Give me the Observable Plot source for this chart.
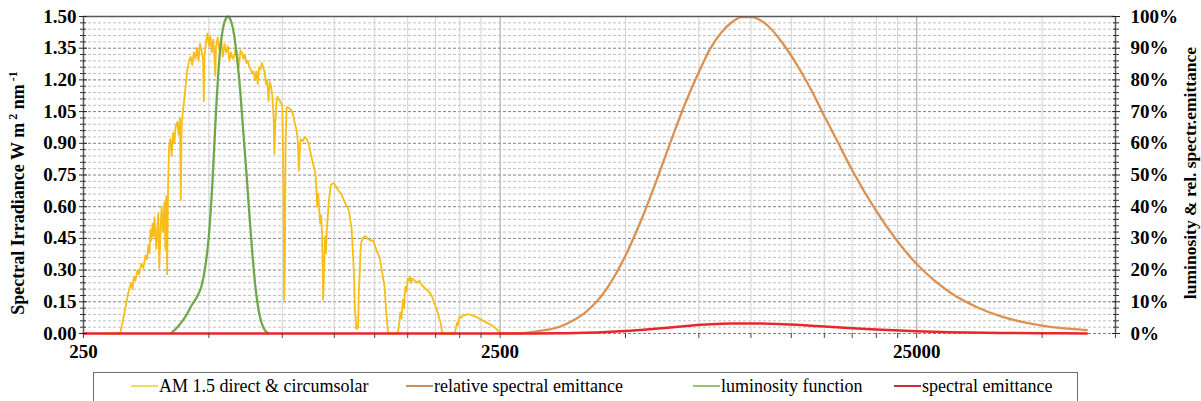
<!DOCTYPE html>
<html><head><meta charset="utf-8">
<script src="https://cdn.jsdelivr.net/npm/d3@7"></script>
<script src="https://cdn.jsdelivr.net/npm/@observablehq/plot@0.6"></script>
<style>
body{margin:0;background:#fff;font-family:"Liberation Serif","Times New Roman",serif;}
#wrap{position:relative;width:1201px;height:401px;overflow:hidden;background:#fff;}
#legend{position:absolute;left:93px;top:372px;width:985px;height:40px;border:1px solid #6e6e6e;box-sizing:border-box;background:#fff;}
.item{position:absolute;top:2px;font-family:"Liberation Serif","Times New Roman",serif;font-size:18px;line-height:22px;display:flex;align-items:center;color:#000;white-space:nowrap;}
.sw{display:inline-block;width:27px;height:2px;margin-right:1px;}
</style></head><body>
<div id="wrap"><div id="chart"></div><div id="legend"></div></div>
<script>
// ---------- data ----------
// AM 1.5 direct & circumsolar: [wavelength nm, W m-2 nm-1]
const amSpectrum = [[280,0],[295,0],[306,0],[310,0.05],[315,0.12],[320,0.19],[325,0.24],[328,0.21],[330,0.27],[333,0.25],[337,0.30],[340,0.28],[344,0.33],[348,0.31],[352,0.37],[355,0.35],[358,0.42],[360,0.38],[362,0.49],[364,0.44],[366,0.52],[368,0.46],[370,0.55],[372,0.47],[374,0.40],[376,0.50],[378,0.57],[380,0.31],[382,0.45],[385,0.60],[388,0.48],[391,0.62],[393,0.40],[395,0.65],[397,0.28],[399,0.70],[401,0.88],[404,0.92],[407,0.84],[410,0.95],[413,0.90],[416,0.98],[420,1.00],[423,0.94],[426,1.02],[428,0.63],[430,0.98],[433,1.05],[436,1.10],[440,1.18],[444,1.25],[448,1.29],[452,1.31],[456,1.27],[460,1.33],[464,1.30],[468,1.35],[472,1.29],[476,1.37],[480,1.34],[484,1.30],[486,1.10],[488,1.31],[492,1.38],[496,1.42],[500,1.36],[504,1.41],[508,1.33],[512,1.39],[516,1.30],[518,1.22],[520,1.36],[525,1.40],[530,1.34],[535,1.39],[540,1.31],[545,1.37],[550,1.33],[555,1.36],[560,1.29],[565,1.33],[570,1.30],[575,1.31],[580,1.35],[585,1.32],[590,1.26],[595,1.34],[600,1.33],[605,1.30],[610,1.32],[615,1.28],[620,1.29],[625,1.26],[630,1.25],[635,1.23],[640,1.24],[645,1.20],[650,1.24],[655,1.18],[660,1.26],[665,1.25],[670,1.28],[675,1.26],[680,1.24],[685,1.18],[690,1.20],[695,1.10],[700,1.19],[705,1.17],[710,1.12],[715,1.02],[718,0.85],[722,1.00],[726,1.09],[730,1.12],[735,1.11],[740,1.10],[745,1.09],[750,1.08],[755,0.70],[758,0.16],[761,0.35],[764,0.90],[768,1.07],[775,1.07],[785,1.06],[795,1.04],[805,0.99],[812,0.96],[818,0.90],[822,0.77],[826,0.86],[830,0.92],[840,0.91],[850,0.93],[860,0.92],[870,0.89],[880,0.84],[890,0.80],[900,0.76],[905,0.70],[910,0.60],[915,0.66],[920,0.58],[925,0.52],[930,0.56],[935,0.45],[940,0.16],[945,0.30],[950,0.46],[955,0.38],[960,0.50],[965,0.56],[970,0.63],[975,0.66],[980,0.70],[990,0.71],[1000,0.71],[1020,0.68],[1040,0.66],[1060,0.62],[1080,0.59],[1090,0.55],[1100,0.50],[1110,0.35],[1115,0.27],[1120,0.12],[1130,0.02],[1140,0.03],[1145,0.20],[1150,0.27],[1155,0.38],[1160,0.43],[1170,0.45],[1180,0.46],[1190,0.46],[1200,0.45],[1220,0.44],[1240,0.44],[1260,0.40],[1270,0.38],[1285,0.36],[1300,0.30],[1320,0.22],[1335,0.08],[1345,0.01],[1355,0],[1420,0],[1430,0.04],[1440,0.10],[1450,0.07],[1460,0.16],[1470,0.12],[1480,0.22],[1490,0.20],[1500,0.26],[1510,0.25],[1520,0.27],[1530,0.24],[1540,0.26],[1560,0.25],[1580,0.24],[1600,0.25],[1620,0.23],[1640,0.22],[1660,0.21],[1680,0.20],[1700,0.19],[1720,0.17],[1740,0.14],[1760,0.12],[1780,0.08],[1800,0.05],[1812,0.01],[1820,0],[1940,0],[1950,0.01],[1960,0.03],[1970,0.05],[1980,0.04],[1990,0.07],[2000,0.08],[2020,0.075],[2040,0.09],[2060,0.085],[2080,0.09],[2100,0.092],[2120,0.088],[2150,0.085],[2180,0.08],[2210,0.075],[2240,0.068],[2270,0.062],[2300,0.055],[2340,0.048],[2380,0.04],[2420,0.03],[2460,0.018],[2500,0.006],[2540,0]];
// relative spectral emittance: [wavelength nm, % of peak]
const relEmittance = [[2500,0],[2800,0.1],[3000,0.5],[3250,1.2],[3500,2.3],[3750,4.2],[4000,6.6],[4500,14],[5000,24.6],[5500,37],[6000,50],[6500,62.5],[7000,73.5],[7500,82.5],[8000,90],[8500,95],[9000,98.2],[9500,99.8],[10000,99.8],[11000,97],[12000,91],[13000,84],[14000,76.5],[15000,68.6],[16000,61.5],[17500,51.5],[20000,38.6],[22500,29],[25000,21.9],[27500,16.8],[30000,13],[35000,8.2],[40000,5.3],[45000,3.6],[50000,2.5],[55000,1.8],[60000,1.35],[64000,1.05]];
// luminosity function: [wavelength nm, %]
const luminosity = [[405,0],[420,2],[440,5.5],[455,9],[470,12],[480,15],[490,21],[500,31],[510,48],[520,70],[530,87],[540,96],[550,99.5],[555,100],[565,98.5],[575,94],[585,86],[595,76],[605,63],[615,51],[625,38],[635,26],[645,16],[655,9],[665,4.5],[675,2],[685,0.6],[695,0]];
// spectral emittance: [wavelength nm, W m-2 nm-1]
const spectralEmittance = [[250,0],[2500,0],[3000,0.0002],[3500,0.0011],[4000,0.0032],[4500,0.0067],[5000,0.0118],[6000,0.024],[7000,0.0353],[8000,0.0432],[9000,0.0471],[10000,0.0479],[12000,0.0437],[15000,0.0329],[17500,0.0247],[20000,0.0185],[25000,0.0105],[30000,0.0062],[40000,0.0025],[50000,0.0012],[64000,0.0005]];

// ticks
const xTickLabels = [250, 2500, 25000];
const xGridMinor = [500,750,1000,1250,1500,1750,2000,2250,5000,7500,10000,12500,15000,17500,20000,22500,50000];
const xGridMajor = [2500, 25000];
const xTicksAll = [250,500,750,1000,1250,1500,1750,2000,2250,2500,5000,7500,10000,12500,15000,17500,20000,22500,25000,50000,75000];
const yMajor = [0,0.15,0.30,0.45,0.60,0.75,0.90,1.05,1.20,1.35,1.50];
const yMinor = [0.03,0.06,0.09,0.12,0.18,0.21,0.24,0.27,0.33,0.36,0.39,0.42,0.48,0.51,0.54,0.57,0.63,0.66,0.69,0.72,0.78,0.81,0.84,0.87,0.93,0.96,0.99,1.02,1.08,1.11,1.14,1.17,1.23,1.26,1.29,1.32,1.38,1.41,1.44,1.47];
const rightPct = [0,10,20,30,40,50,60,70,80,90,100];

const legendItems = [
  {label:"AM 1.5 direct & circumsolar", color:"#F2DA5E", left:37},
  {label:"relative spectral emittance", color:"#C9905A", left:312},
  {label:"luminosity function", color:"#9CC27A", left:599},
  {label:"spectral emittance", color:"#C2303F", left:800}
];

// ---------- chart ----------
const pctToY = p => p * 1.5 / 100;
const fmtPct = v => `${Math.round(v / 0.015)}%`;
const blank = () => "";

const chart = Plot.plot({
  width: 1201, height: 368,
  marginLeft: 83, marginRight: 86, marginTop: 16, marginBottom: 35,
  x: {type: "log", domain: [250, 75000]},
  y: {domain: [0, 1.5]},
  style: {fontFamily: "'Liberation Serif', 'Times New Roman', serif", fontSize: "19px", fontWeight: "bold", color: "#000", background: "#fff", overflow: "visible"},
  marks: [
    Plot.ruleY(yMinor, {stroke: "#c0c0c0", strokeDasharray: "3,2", strokeWidth: 1}),
    Plot.ruleY(yMajor, {stroke: "#808080", strokeDasharray: "3,2", strokeWidth: 1}),
    Plot.ruleX(xGridMinor, {stroke: "#d2d2d2", strokeWidth: 1}),
    Plot.ruleX(xGridMajor, {stroke: "#a0a0a0", strokeWidth: 1}),
    Plot.line(amSpectrum, {x: d => d[0], y: d => d[1], stroke: "#F8BE17", strokeWidth: 1.8, curve: "linear"}),
    Plot.line(relEmittance, {x: d => d[0], y: d => pctToY(d[1]), stroke: "#DB9152", strokeWidth: 2.3, curve: "monotone-x"}),
    Plot.line(luminosity, {x: d => d[0], y: d => pctToY(d[1]), stroke: "#6FA84A", strokeWidth: 2.3, curve: "monotone-x"}),
    Plot.line(spectralEmittance, {x: d => d[0], y: d => d[1], stroke: "#E8262B", strokeWidth: 2.5, curve: "monotone-x"}),
    // frame
    Plot.ruleY([1.5], {stroke: "#5a5a5a", strokeWidth: 1.5}),
    Plot.ruleX([250], {stroke: "#5a5a5a", strokeWidth: 1.5}),
    Plot.ruleX([75000], {stroke: "#5a5a5a", strokeWidth: 1.5}),
    // x axis
    Plot.axisX(xTicksAll, {tickSize: 5, tickFormat: blank, stroke: "#444"}),
    Plot.axisX(xTickLabels, {tickSize: 0, tickPadding: 11, tickFormat: d => String(d)}),
    // left axis
    Plot.axisY(yMajor, {anchor: "left", tickSize: 4, tickPadding: 3, tickFormat: d => d.toFixed(2), stroke: "#222"}),
    Plot.axisY(yMajor, {anchor: "left", tickSize: 4, dx: 4, tickFormat: blank, stroke: "#222"}),
    Plot.axisY(yMinor, {anchor: "left", tickSize: 3, tickFormat: blank, stroke: "#333"}),
    Plot.axisY(yMinor, {anchor: "left", tickSize: 3, dx: 3, tickFormat: blank, stroke: "#333"}),
    // right axis
    Plot.axisY(rightPct.map(pctToY), {anchor: "right", tickSize: 4, tickPadding: 11, tickFormat: fmtPct, stroke: "#222"}),
    Plot.axisY(rightPct.map(pctToY), {anchor: "right", tickSize: 4, dx: -4, tickFormat: blank, stroke: "#222"}),
    Plot.axisY(yMinor, {anchor: "right", tickSize: 3, tickFormat: blank, stroke: "#333"}),
    Plot.axisY(yMinor, {anchor: "right", tickSize: 3, dx: -3, tickFormat: blank, stroke: "#333"})
  ]
});
document.getElementById("chart").appendChild(chart);

// axis titles
const svg = d3.select(chart);
const lt = svg.append("text").attr("transform", "translate(24,193) rotate(-90)")
  .attr("text-anchor", "middle").attr("font-size", 18).attr("font-weight", "bold").attr("fill", "#000");
lt.append("tspan").text("Spectral Irradiance W m");
lt.append("tspan").attr("dy", -7).attr("font-size", 12).text(" 2");
lt.append("tspan").attr("dy", 7).text(" nm");
lt.append("tspan").attr("dy", -7).attr("font-size", 12).text(" -1");
svg.append("text").attr("transform", "translate(1196,173) rotate(-90)")
  .attr("text-anchor", "middle").attr("font-size", 17.5).attr("font-weight", "bold").attr("fill", "#000")
  .text("luminosity & rel. spectr.emittance");

// legend
const leg = d3.select("#legend");
legendItems.forEach(it => {
  const d = leg.append("div").attr("class", "item").style("left", it.left + "px");
  d.append("span").attr("class", "sw").style("background", it.color);
  d.append("span").text(it.label);
});
</script>
</body></html>
